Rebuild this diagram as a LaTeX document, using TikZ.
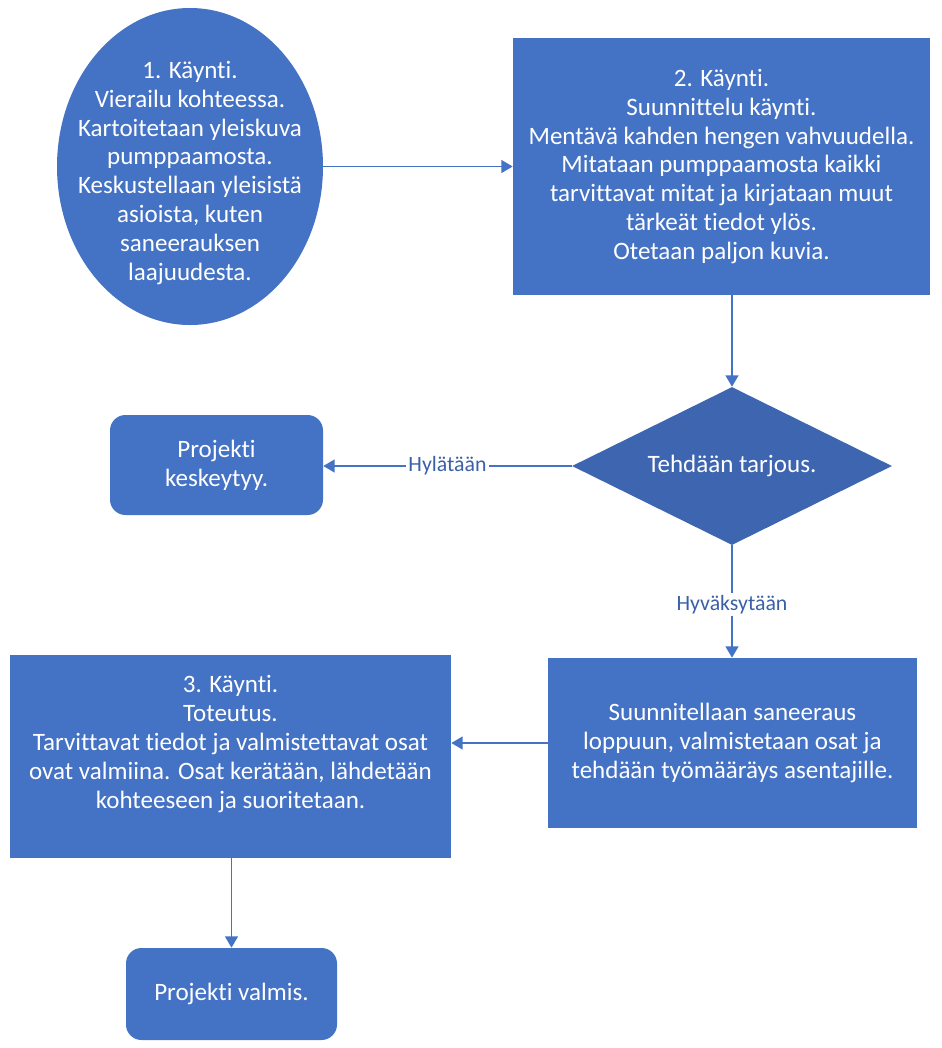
\documentclass[tikz,border=0pt]{standalone}
\usepackage{fontspec}
\setmainfont{Carlito}[Ligatures=NoCommon]
\usepackage{tikz}
\usetikzlibrary{shapes.geometric, arrows.meta}

\definecolor{sininen}{HTML}{4472C4}
\definecolor{tumma}{RGB}{62,101,176}
\def\pxu{0.025cm}

\begin{document}
\begin{tikzpicture}[x=\pxu, y=-\pxu,
    laatikko/.style={fill=sininen, text=white, align=center, inner sep=0pt,
                     font=\fontsize{17.8}{20.6}\selectfont},
    pyorea/.style={laatikko, rounded corners=11pt},
    teksti/.style={text=white, align=center, inner sep=0pt,
                   font=\fontsize{17.8}{20.6}\selectfont},
    nuoli/.style={draw=sininen, line width=1.4pt, -{Triangle[length=8pt,width=9pt]}},
    selite/.style={fill=white, text=sininen!85!black, inner sep=1.5pt,
                   font=\fontsize{15.5}{17}\selectfont}]
                \useasboundingbox (0,0) rectangle (942,1048);

                % 1. kaynti, ellipsi ja teksti erikseen
                \node[fill=sininen, ellipse, inner sep=0pt, minimum width=266*\pxu, minimum height=317*\pxu] (k1) at (190,166.5) {};
                \node[teksti] (k1t) at (190,173) {1. Käynti.\\Vierailu kohteessa.\\Kartoitetaan yleiskuva\\pumppaamosta.\\Keskustellaan yleisistä\\asioista, kuten\\saneerauksen\\laajuudesta.};

                % 2. kaynti
                \node[laatikko, minimum width=417*\pxu, minimum height=257*\pxu] (k2) at (721.5,166.5) {2. Käynti.\\Suunnittelu käynti.\\Mentävä kahden hengen vahvuudella.\\Mitataan pumppaamosta kaikki\\tarvittavat mitat ja kirjataan muut\\tärkeät tiedot ylös.\\Otetaan paljon kuvia.};

                % paatos
                \node[laatikko, fill=tumma, diamond, aspect=2, minimum width=320*\pxu, minimum height=158*\pxu] (tarjous) at (732,466) {Tehdään tarjous.};
                \node[pyorea, minimum width=213*\pxu, minimum height=100*\pxu] (keskeytyy) at (216.5,465) {Projekti\\keskeytyy.};

                \node[laatikko, minimum width=369*\pxu, minimum height=170*\pxu] (suunnittelu) at (732.5,743) {Suunnitellaan saneeraus\\loppuun, valmistetaan osat ja\\tehdään työmääräys asentajille.};

                % 3. kaynti
                \node[fill=sininen, inner sep=0pt, minimum width=441*\pxu, minimum height=203*\pxu] (k3) at (230.5,756.5) {};
                \node[teksti] (k3t) at (230.5,744) {3. Käynti.\\Toteutus.\\Tarvittavat tiedot ja valmistettavat osat\\ovat valmiina. Osat kerätään, lähdetään\\kohteeseen ja suoritetaan.};

                \node[pyorea, minimum width=211*\pxu, minimum height=92*\pxu] (valmis) at (231.5,994) {Projekti valmis.};

                % nuolet
                \draw[nuoli] (k1) -- (k2);
                \draw[nuoli] (k2.south -| tarjous.north) -- (tarjous.north);
                \draw[nuoli] (tarjous.west) -- node[selite] (hyl) {Hylätään} (tarjous.west -| keskeytyy.east);
                \draw[nuoli] (tarjous.south) -- node[selite, pos=0.53] (hyv) {Hyväksytään} (tarjous.south |- suunnittelu.north);
                \draw[nuoli] (suunnittelu.west) -- (suunnittelu.west -| k3.east);
                \draw[nuoli] (k3.south -| valmis.north) -- (valmis.north);
\end{tikzpicture}
\end{document}
